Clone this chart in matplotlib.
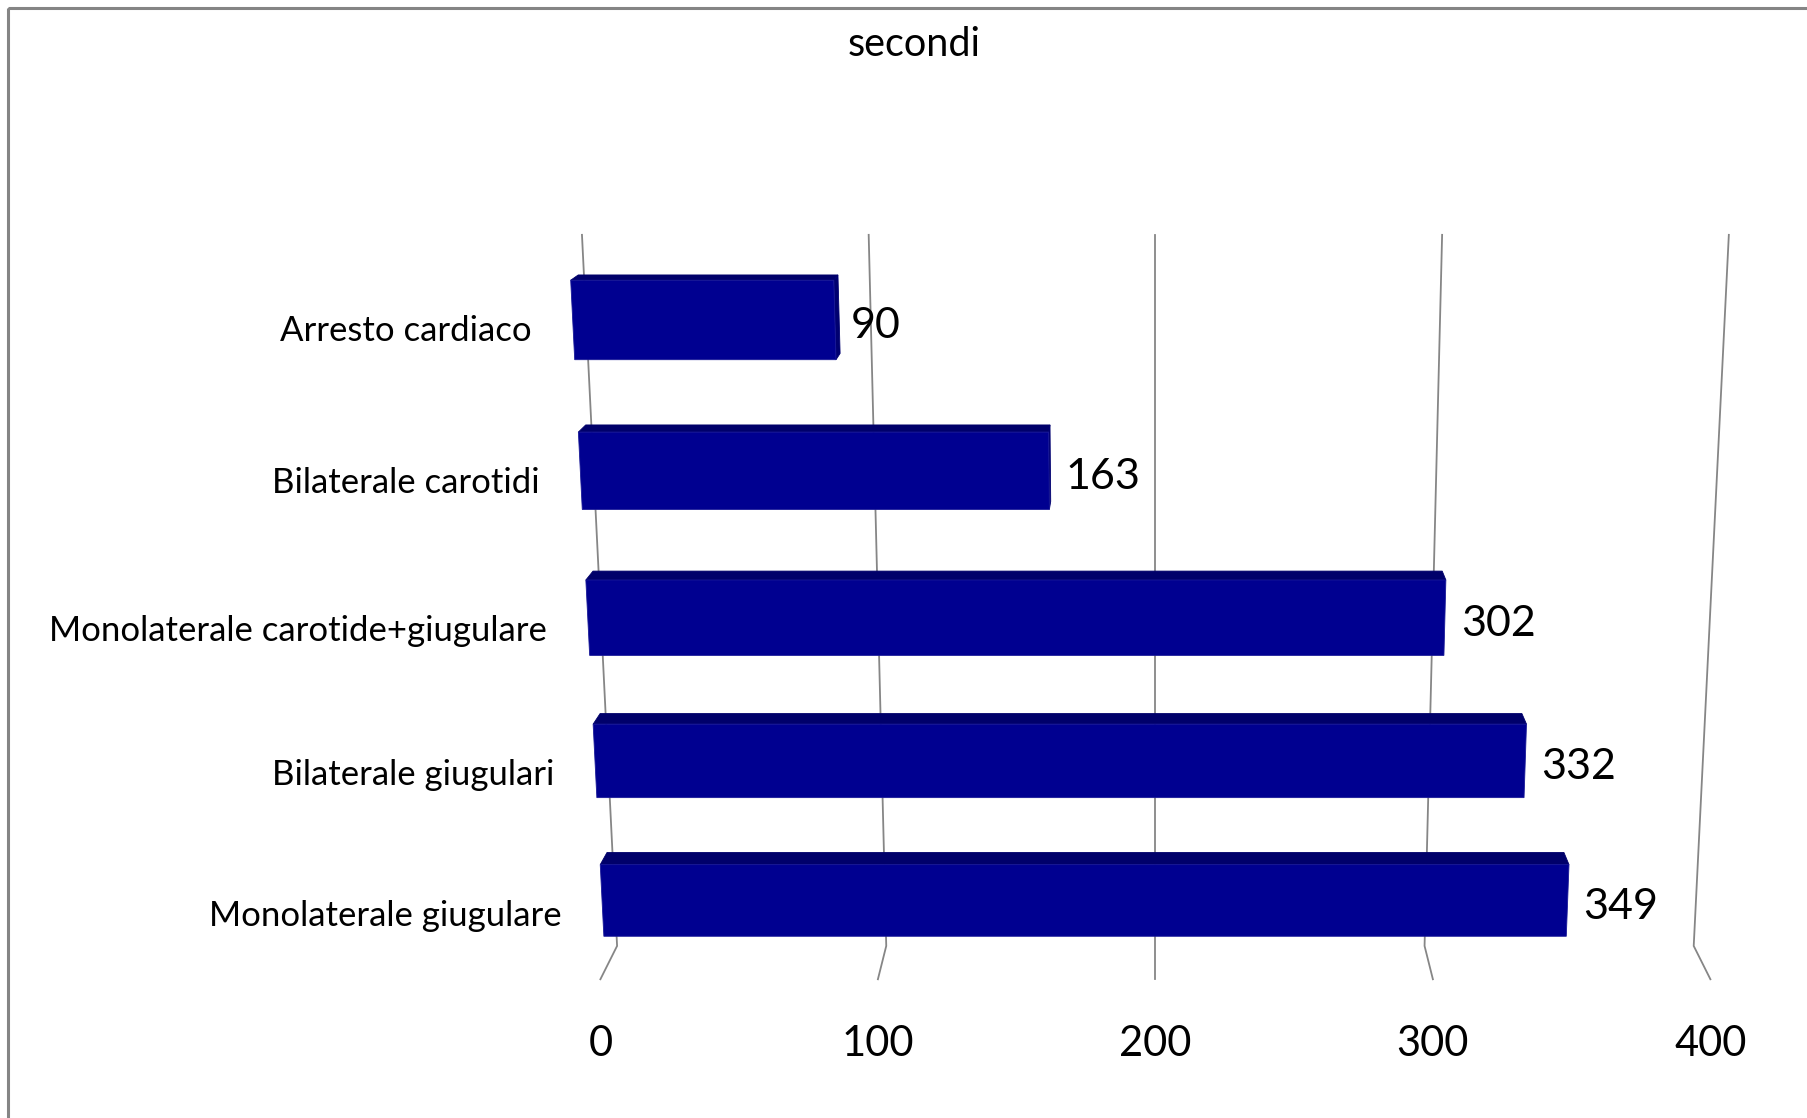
import numpy as np
import matplotlib
matplotlib.use("Agg")
import matplotlib.pyplot as plt
from matplotlib import transforms as mtransforms
from matplotlib.patches import Polygon, Rectangle

# ---- data -------------------------------------------------------------
categories = [
    "Monolaterale giugulare",
    "Bilaterale giugulari",
    "Monolaterale carotide+giugulare",
    "Bilaterale carotidi",
    "Arresto cardiaco",
]
values = [349, 332, 302, 163, 90]
axis_ticks = [0, 100, 200, 300, 400]
title = "secondi"

# ---- styling ----------------------------------------------------------
FONT = ["Lato", "DejaVu Sans"]
FRONT_COLOR = "#000090"
TOP_COLOR = "#00006A"
SIDE_COLOR = "#000070"
GRID_COLOR = "#868686"

W, H = 1808, 1118
fig = plt.figure(figsize=(W / 100, H / 100), dpi=100)
ax = fig.add_axes([0, 0, 1, 1])

# ---- 3-D scene: world units are axis value units ----------------------
V_MIN, V_MAX = axis_ticks[0], axis_ticks[-1]
V_CENTER = 0.5 * (V_MIN + V_MAX)
WALL_H = 260.0                      # height of the back wall
SLOT = WALL_H / len(categories)     # vertical room per category
FLOOR_D = 40.0                      # depth of the floor strip
BAR_Z = (12.0, 28.0)                # depth range occupied by the bars
BAR_FRAC = 0.52                     # bar height as fraction of a slot

# pinhole camera looking down at the wall
CAM_DIST = 1211.0
CAM_H = 381.0
PITCH = np.radians(17.4)
FOCAL = 3417.0
CX, CY = 1155.4, 942.1


def project(v, y, z):
    v, y, z = np.broadcast_arrays(np.asarray(v, float),
                                  np.asarray(y, float),
                                  np.asarray(z, float))
    dx = v - V_CENTER
    dy = y - CAM_H
    dz = z - CAM_DIST
    depth = -dy * np.sin(PITCH) - dz * np.cos(PITCH)
    up = dy * np.cos(PITCH) - dz * np.sin(PITCH)
    return CX + FOCAL * dx / depth, CY - FOCAL * up / depth


def cat_height(c):
    return (np.asarray(c, float) + 0.5) * SLOT


class DepthPlane(mtransforms.Transform):
    """Maps (value, category position) on a plane of fixed depth to canvas."""
    input_dims = 2
    output_dims = 2
    is_separable = False
    has_inverse = False

    def __init__(self, z):
        super().__init__()
        self.z = z

    def transform_non_affine(self, values):
        values = np.asarray(values, float)
        px, py = project(values[:, 0], cat_height(values[:, 1]), self.z)
        return np.column_stack([px, py])


# ---- wall + floor gridlines -------------------------------------------
for t in axis_ticks:
    gx, gy = project([t, t, t], [WALL_H, 0, 0], [0, 0, FLOOR_D])
    ax.plot(gx, gy, color=GRID_COLOR, lw=1.3, solid_joinstyle="miter", zorder=1)

# ---- bars ---------------------------------------------------------------
pos = np.arange(len(categories))
z_back, z_front = BAR_Z
for c, v in zip(pos, values):
    y_top = cat_height(c + BAR_FRAC / 2)
    y_bot = cat_height(c - BAR_FRAC / 2)
    # top face
    tx, ty = project([V_MIN, v, v, V_MIN], y_top, [z_back, z_back, z_front, z_front])
    ax.add_patch(Polygon(np.column_stack([tx, ty]), closed=True,
                         facecolor=TOP_COLOR, edgecolor=TOP_COLOR, lw=0.6, zorder=2))
    # end face, visible when the bar ends left of the camera
    if v < V_CENTER:
        sx, sy = project(v, [y_bot, y_top, y_top, y_bot],
                         [z_front, z_front, z_back, z_back])
        ax.add_patch(Polygon(np.column_stack([sx, sy]), closed=True,
                             facecolor=SIDE_COLOR, edgecolor=SIDE_COLOR, lw=0.6, zorder=2))

front_plane = DepthPlane(z_front) + ax.transData
ax.barh(pos, values, height=BAR_FRAC, color=FRONT_COLOR, edgecolor="#1A1A98",
        linewidth=0.6, transform=front_plane, zorder=3)

# ---- labels ------------------------------------------------------------
for c, v, name in zip(pos, values, categories):
    lx, ly = project(v, cat_height(c), z_front)
    ax.text(lx + 16, ly + 6, f"{v}", fontsize=31, family=FONT,
            ha="left", va="center", zorder=4)
    nx, ny = project(V_MIN, cat_height(c), FLOOR_D)
    ax.text(nx - 35, ny + 6, name, fontsize=25, family=FONT,
            ha="right", va="center", zorder=4)

for t in axis_ticks:
    kx, ky = project(t, 0, FLOOR_D)
    ax.text(kx, ky + 65, f"{t}", fontsize=30, family=FONT,
            ha="center", va="center", zorder=4)

ax.text(914, 44, title, fontsize=28.5, family=FONT, ha="center", va="center")

# chart frame
ax.add_patch(Rectangle((8, 8), W + 20, H + 20, fill=False,
                       edgecolor="#858585", lw=2.2, zorder=5))

ax.set_xlim(0, W)
ax.set_ylim(H, 0)
ax.axis("off")
fig.savefig("out.png", dpi=100, facecolor="white")
